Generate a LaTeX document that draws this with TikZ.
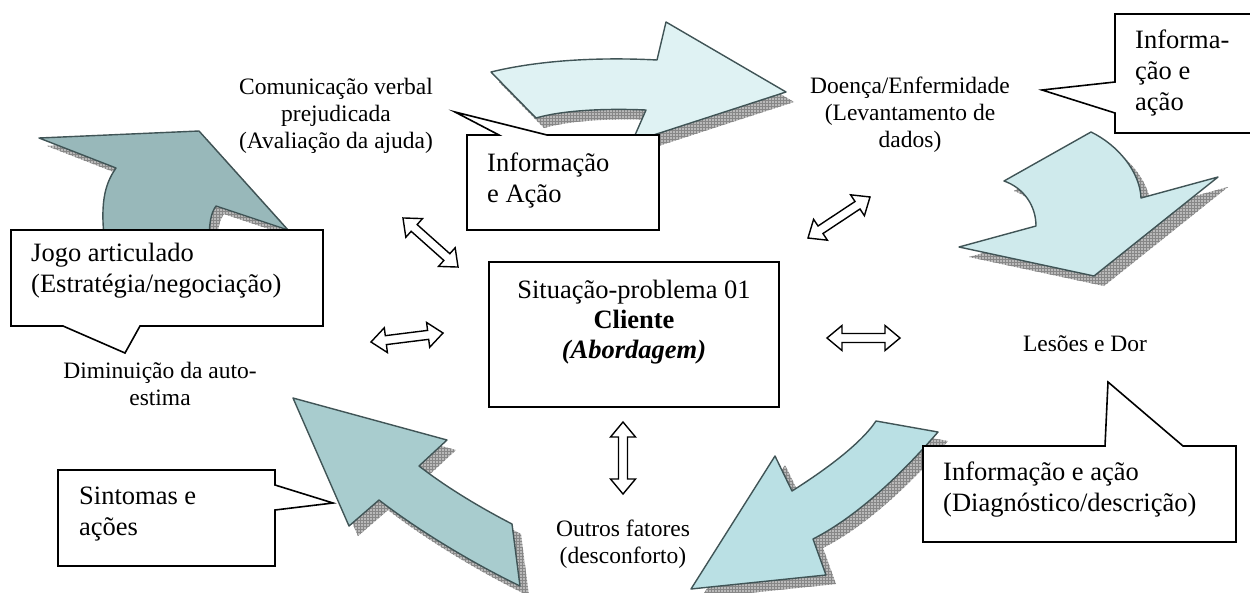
\documentclass[tikz,border=0pt]{standalone}
\usepackage{fontspec}
\setmainfont{Liberation Serif}
\usetikzlibrary{patterns}
\definecolor{cTop}{RGB}{223,242,243}
\definecolor{cRight}{RGB}{207,234,236}
\definecolor{cBR}{RGB}{186,224,228}
\definecolor{cBL}{RGB}{168,204,206}
\definecolor{cTL}{RGB}{152,184,186}
\definecolor{cEdge}{RGB}{64,84,86}
\definecolor{cShadow}{RGB}{185,185,185}
\definecolor{cGrid}{RGB}{135,135,135}
\tikzset{
  lbl/.style={inner sep=0pt, align=center, font=\fontsize{23.5}{27}\selectfont},
  calltxt/.style={inner sep=0pt, align=left, anchor=west, font=\fontsize{26.5}{31}\selectfont},
  callout/.style={draw=black, line width=1.6pt, fill=white, line join=miter},
  blk/.style={draw=cEdge, line width=1.4pt, line join=round},
  shd/.style={fill=cShadow, postaction={pattern=grid, pattern color=cGrid}},
  biarrowline/.style={draw=black, line width=1.4pt, fill=white, line join=miter},
  pics/biarrow/.style={code={
    \path[biarrowline] (-#1,0) -- (-#1+15,12.5) -- (-#1+15,4.5) -- (#1-15,4.5) -- (#1-15,12.5)
      -- (#1,0) -- (#1-15,-12.5) -- (#1-15,-4.5) -- (-#1+15,-4.5) -- (-#1+15,-12.5) -- cycle;
  }}
}
\newcommand\shpTop[1]{\path[#1] (491,-72) .. controls (540,-60) and (600,-57) .. (657,-60) -- (666,-22) -- (786,-92) -- (632,-142) -- (646,-110) .. controls (600,-108) and (560,-111) .. (536,-118) -- cycle;}
\newcommand\shpRight[1]{\path[#1] (1091,-132) .. controls (1118,-145) and (1140,-172) .. (1141,-198) -- (1218,-177) -- (1094,-276) -- (959,-247) -- (1036,-226) .. controls (1036,-206) and (1024,-188) .. (1004,-181) -- cycle;}
\newcommand\shpBR[1]{\path[#1] (876,-421) -- (938,-432) .. controls (905,-470) and (860,-515) .. (813,-539) -- (826,-575) -- (691,-589) -- (775,-456) -- (792,-491) .. controls (822,-472) and (860,-445) .. (876,-421) -- cycle;}
\newcommand\shpBL[1]{\path[#1] (293,-398) -- (447,-440) -- (419,-466) .. controls (450,-490) and (485,-510) .. (512,-524) -- (520,-586) .. controls (470,-562) and (415,-528) .. (379,-500) -- (349,-526) -- cycle;}
\newcommand\shpTL[1]{\path[#1] (39,-138) -- (199,-131) -- (288,-230) -- (216,-206) .. controls (211,-213) and (209,-222) .. (209,-245) -- (105,-245) .. controls (100,-205) and (104,-185) .. (116,-168) -- cycle;}
\begin{document}
\begin{tikzpicture}[x=1pt,y=1pt]
\useasboundingbox (0,0) rectangle (1250,-592);
\clip (0,0) rectangle (1250,-592);
\fill[white] (0,0) rectangle (1250,-592);

% shadows
\shpTop{shd, shift={(8,-10)}}
\shpRight{shd, shift={(10,-10)}}
\shpBR{shd, shift={(10,-9)}}
\shpBL{shd, shift={(9,-10)}}
\shpTL{shd, shift={(8,-8)}}
% block arrows
\shpTop{blk, fill=cTop}
\shpRight{blk, fill=cRight}
\shpBR{blk, fill=cBR}
\shpBL{blk, fill=cBL}
\shpTL{blk, fill=cTL}

% callouts
\path[callout] (11,-230) -- (323,-230) -- (323,-326) -- (140,-326) -- (125,-353) -- (63,-326) -- (11,-326) -- cycle;
\path[callout] (467,-135) -- (499,-135) -- (455,-112) -- (547,-135) -- (659,-135) -- (659,-230) -- (467,-230) -- cycle;
\path[callout] (1115,-14) -- (1262,-14) -- (1262,-133) -- (1115,-133) -- (1115,-113) -- (1042,-90) -- (1115,-82) -- cycle;
\path[callout] (58,-470) -- (275,-470) -- (275,-485) -- (333,-503) -- (275,-510) -- (275,-566) -- (58,-566) -- cycle;
\path[callout] (923,-446) -- (1105,-446) -- (1108,-382) -- (1183,-446) -- (1236,-446) -- (1236,-542) -- (923,-542) -- cycle;

\node[calltxt] (jogo) at (31,-271) {Jogo articulado\\(Estratégia/negociação)};
\node[calltxt] (infoA) at (487,-180) {Informação\\e Ação};
\node[calltxt] (infoB) at (1135,-72.5) {Informa-\\ção e\\ação};
\node[calltxt] (sint) at (79,-514.5) {Sintomas e\\ações};
\node[calltxt] (infoC) at (943,-490) {Informação e ação\\(Diagnóstico/descrição)};

% centre box
\node[draw=black, line width=1.6pt, fill=white, minimum width=290pt, minimum height=145pt, inner sep=0pt] (cliente) at (634,-334.5) {};
\node[inner sep=0pt, align=center, font=\fontsize{26.5}{30}\selectfont] (clientetxt) at (634,-322)
  {Situação-problema 01\\\textbf{Cliente}\\\textbf{\textit{(Abordagem)}}};

% labels
\node[lbl] (comunic) at (336,-115.4) {Comunicação verbal\\prejudicada\\(Avaliação da ajuda)};
\node[lbl] (doenca) at (910,-114.5) {Doença/Enfermidade\\(Levantamento de\\dados)};
\node[lbl, anchor=base] (lesoes) at (1085,-351) {Lesões e Dor};
\node[lbl] (outros) at (623,-544.5) {Outros fatores\\(desconforto)};
\node[lbl] (diminui) at (160,-383.5) {Diminuição da auto-\\estima};

% double arrows
\pic[rotate=-41.7] at (430.5,-242.5) {biarrow=36.9};
\pic[rotate=7.1] at (407,-337.5) {biarrow=36.3};
\pic[rotate=33.5] at (839,-217.5) {biarrow=37.2};
\pic at (863.5,-338) {biarrow=36.5};
\pic[rotate=90] at (623,-458) {biarrow=36};
\end{tikzpicture}
\end{document}
